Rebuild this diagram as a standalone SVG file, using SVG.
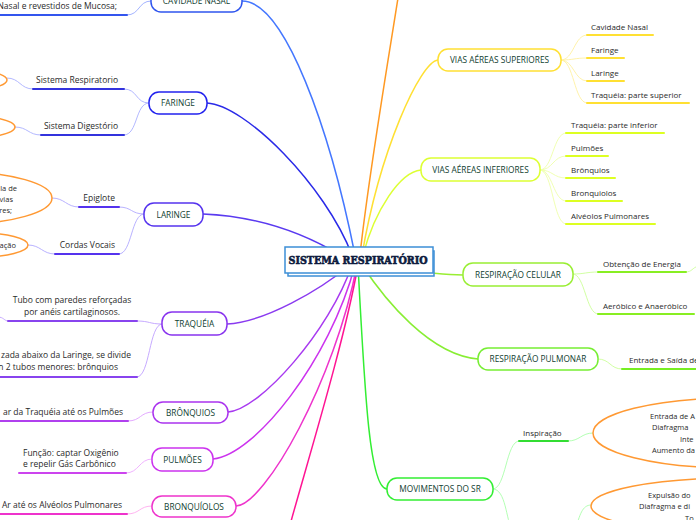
<svg xmlns="http://www.w3.org/2000/svg" width="696" height="520" viewBox="0 0 696 520">
<style>
.bg{fill:#ffffff}
.c{fill:none;stroke-linecap:round}
.m{stroke-width:1.5}
.s{stroke-width:0.9}
.u{stroke-width:2}
.nd{fill:#ffffff;stroke-width:1.5}
.nt{font-family:"Open Sans","Noto Sans",sans-serif;font-size:8.3px;fill:#0f4030;text-anchor:middle}
.lt{font-family:"Open Sans","Noto Sans",sans-serif;font-size:8.5px;fill:#2a2a2a}
.rt{font-family:"Open Sans","Noto Sans",sans-serif;font-size:8px;fill:#2a2a2a}
.et{font-family:"Open Sans","Noto Sans",sans-serif;font-size:7.5px;fill:#2a2a2a}
.el{fill:#ffffff;stroke:#ff9933;stroke-width:1.5}
.end{text-anchor:end}
.mid{text-anchor:middle}
.ct{font-family:"DejaVu Serif",serif;font-weight:bold;font-size:10.5px;fill:#0d1b3e;stroke:#0d1b3e;stroke-width:0.6;text-anchor:middle}
.cb{fill:#ffffff;stroke:#3d8fd6;stroke-width:1.5}
</style>
<rect class="bg" x="0" y="0" width="696" height="520"/>
<g id="connectors">
  <path class="c m" stroke="#4477ff" d="M242,1 C285,1 330,130 355,255"/>
  <path class="c m" stroke="#2a2ae8" d="M207,103 C245,105 325,185 352,255"/>
  <path class="c m" stroke="#5a3af0" d="M203,214 C250,216 300,230 345,258"/>
  <path class="c m" stroke="#8a3af0" d="M227,324 C265,322 320,290 350,265"/>
  <path class="c m" stroke="#a83af0" d="M228,412 C260,410 330,330 352,265"/>
  <path class="c m" stroke="#cc33ee" d="M213,459 C255,455 330,360 355,265"/>
  <path class="c m" stroke="#ee33cc" d="M236,506 C265,505 335,380 357,265"/>
  <path class="c m" stroke="#ff1493" d="M290,525 C305,470 345,340 358,265"/>
  <path class="c m" stroke="#ff9922" d="M398,-2 C385,80 368,180 360,255"/>
  <path class="c m" stroke="#ffe033" d="M438,60 C420,62 380,150 362,255"/>
  <path class="c m" stroke="#ddff33" d="M421,170 C400,172 375,210 363,255"/>
  <path class="c m" stroke="#99ee33" d="M420,272 C435,273 445,275 463,275"/>
  <path class="c m" stroke="#88ee33" d="M362,265 C385,300 430,355 478,359"/>
  <path class="c m" stroke="#33ee33" d="M358,265 C365,400 370,489 387,489"/>
  <path class="c s" stroke="#99aaff" d="M127,15 C140,15 138,1 151,1"/>
  <path class="c u" stroke="#3355ee" d="M0,15 L127,15"/>
  <path class="c s" stroke="#aab0ff" d="M124,89 C138,89 135,103 149,103"/>
  <path class="c s" stroke="#aab0ff" d="M124,135 C138,135 135,103 149,103"/>
  <path class="c s" stroke="#aab0ff" d="M7,78 C20,78 20,89 33,89"/>
  <path class="c s" stroke="#aab0ff" d="M15,127 C28,127 28,135 41,135"/>
  <path class="c u" stroke="#3333dd" d="M33,89 L124,89"/>
  <path class="c u" stroke="#3333dd" d="M41,135 L124,135"/>
  <path class="c s" stroke="#b0a8ff" d="M119,207 C132,207 131,214 144,214"/>
  <path class="c s" stroke="#b0a8ff" d="M119,254 C132,254 131,214 144,214"/>
  <path class="c s" stroke="#b0a8ff" d="M52,198 C65,198 66,207 79,207"/>
  <path class="c s" stroke="#b0a8ff" d="M28,245 C41,245 42,254 55,254"/>
  <path class="c u" stroke="#5533ee" d="M79,207 L119,207"/>
  <path class="c u" stroke="#5533ee" d="M55,254 L119,254"/>
  <path class="c s" stroke="#c0a0ff" d="M137,321 C150,321 149,324 162,324"/>
  <path class="c s" stroke="#c0a0ff" d="M137,377 C150,377 149,324 162,324"/>
  <path class="c s" stroke="#c0a0ff" d="M-2,317 C4,317 4,321 8,321"/>
  <path class="c u" stroke="#8844ee" d="M8,321 L137,321"/>
  <path class="c u" stroke="#8844ee" d="M0,377 L137,377"/>
  <path class="c s" stroke="#e0a0ff" d="M128,421 C141,421 140,412 153,412"/>
  <path class="c u" stroke="#b040ee" d="M0,421 L128,421"/>
  <path class="c s" stroke="#eeaaff" d="M126,473 C139,473 139,459 152,459"/>
  <path class="c u" stroke="#cc44ee" d="M19,473 L126,473"/>
  <path class="c s" stroke="#ffaaee" d="M127,514 C140,514 139,506 152,506"/>
  <path class="c u" stroke="#ee33cc" d="M0,514 L127,514"/>
  <path class="c s" stroke="#fff0a0" d="M561,60 C574,60 574,35 587,35"/>
  <path class="c s" stroke="#fff0a0" d="M561,60 C574,60 574,58 587,58"/>
  <path class="c s" stroke="#fff0a0" d="M561,60 C574,60 574,81 587,81"/>
  <path class="c s" stroke="#fff0a0" d="M561,60 C574,60 574,103 587,103"/>
  <path class="c u" stroke="#ffe033" d="M587,35 L653,35"/>
  <path class="c u" stroke="#ffe033" d="M587,58 L624,58"/>
  <path class="c u" stroke="#ffe033" d="M587,81 L624,81"/>
  <path class="c u" stroke="#ffe033" d="M587,103 L689,103"/>
  <path class="c s" stroke="#eeffaa" d="M540,170 C553,170 553,133 566,133"/>
  <path class="c s" stroke="#eeffaa" d="M540,170 C553,170 553,156 566,156"/>
  <path class="c s" stroke="#eeffaa" d="M540,170 C553,170 553,178 566,178"/>
  <path class="c s" stroke="#eeffaa" d="M540,170 C553,170 553,201 566,201"/>
  <path class="c s" stroke="#eeffaa" d="M540,170 C553,170 553,224 566,224"/>
  <path class="c u" stroke="#ddff22" d="M566,133 L664,133"/>
  <path class="c u" stroke="#ddff22" d="M566,156 L608,156"/>
  <path class="c u" stroke="#ddff22" d="M566,178 L615,178"/>
  <path class="c u" stroke="#ddff22" d="M566,201 L622,201"/>
  <path class="c u" stroke="#ddff22" d="M566,224 L655,224"/>
  <path class="c s" stroke="#ccff99" d="M573,274 C585,274 586,272 598,272"/>
  <path class="c s" stroke="#ccff99" d="M573,274 C585,274 586,314 598,314"/>
  <path class="c s" stroke="#ccff99" d="M686,272 C692,272 692,268 698,266"/>
  <path class="c u" stroke="#88ee22" d="M598,272 L686,272"/>
  <path class="c u" stroke="#88ee22" d="M598,314 L694,314"/>
  <path class="c s" stroke="#ccff99" d="M598,359 C610,359 610,369 622,369"/>
  <path class="c u" stroke="#77ee22" d="M622,369 L698,369"/>
  <path class="c s" stroke="#aaffaa" d="M493,489 C506,489 506,441 519,441"/>
  <path class="c s" stroke="#aaffaa" d="M493,489 C506,489 506,520 512,530"/>
  <path class="c s" stroke="#aaffaa" d="M568,441 C580,441 581,433 593,433"/>
  <path class="c s" stroke="#aaffaa" d="M575,530 C580,515 582,505 591,505"/>
  <path class="c u" stroke="#33dd33" d="M519,441 L568,441"/>
</g>
<g id="ellipses">
  <ellipse class="el" cx="-40" cy="80" rx="47" ry="11"/>
  <ellipse class="el" cx="-40" cy="127" rx="55" ry="12"/>
  <ellipse class="el" cx="-40" cy="198" rx="92" ry="26"/>
  <text class="et end" x="17" y="191">la de</text>
  <text class="et end" x="13" y="202">vias</text>
  <text class="et end" x="12" y="213">res;</text>
  <ellipse class="el" cx="-20" cy="245" rx="48" ry="12"/>
  <text class="et end" x="16" y="248">ação</text>
  <ellipse class="el" cx="733" cy="433" rx="140" ry="35"/>
  <text class="et" x="650" y="419">Entrada de A</text>
  <text class="et" x="652" y="430">Diafragma</text>
  <text class="et" x="680" y="442">Inte</text>
  <text class="et" x="652" y="453">Aumento da</text>
  <ellipse class="el" cx="733" cy="506" rx="142" ry="28"/>
  <text class="et" x="648" y="498">Expulsão do</text>
  <text class="et" x="639" y="509">Diafragma e di</text>
  <text class="et" x="685" y="521">To</text>
</g>
<g id="labels">
  <text class="lt end" x="117" y="9">Nasal e revestidos de Mucosa;</text>
  <text class="lt end" x="118" y="83">Sistema Respiratorio</text>
  <text class="lt end" x="118" y="129">Sistema Digestório</text>
  <text class="lt end" x="115" y="201">Epiglote</text>
  <text class="lt end" x="115" y="248">Cordas Vocais</text>
  <text class="lt mid" x="72" y="303">Tubo com paredes reforçadas</text>
  <text class="lt mid" x="72" y="315">por anéis cartilaginosos.</text>
  <text class="lt end" x="131" y="358">zada abaixo da Laringe, se divide</text>
  <text class="lt end" x="118" y="370">n 2 tubos menores: brônquios</text>
  <text class="lt end" x="123" y="415">ar da Traquéia até os Pulmões</text>
  <text class="lt" x="23" y="456">Função: captar Oxigênio</text>
  <text class="lt" x="23" y="467">e repelir Gás Carbônico</text>
  <text class="lt end" x="122" y="508">Ar até os Alvéolos Pulmonares</text>
  <text class="rt" x="591" y="30">Cavidade Nasal</text>
  <text class="rt" x="591" y="53">Faringe</text>
  <text class="rt" x="591" y="76">Laringe</text>
  <text class="rt" x="591" y="98">Traquéia: parte superior</text>
  <text class="rt" x="571" y="128">Traquéia: parte inferior</text>
  <text class="rt" x="571" y="151">Pulmões</text>
  <text class="rt" x="571" y="173">Brônquios</text>
  <text class="rt" x="571" y="196">Bronquiolos</text>
  <text class="rt" x="571" y="219">Alvéolos Pulmonares</text>
  <text class="rt" x="603" y="267">Obtenção de Energia</text>
  <text class="rt" x="603" y="309">Aeróbico e Anaeróbico</text>
  <text class="rt" x="629" y="363">Entrada e Saída de</text>
  <text class="rt" x="523" y="436">Inspiração</text>
</g>
<g id="node-cavidade-nasal"><rect class="nd" stroke="#2f55ee" x="151" y="-10" width="91" height="22" rx="10"/><text class="nt" x="196.5" y="4">CAVIDADE NASAL</text></g>
<g id="node-faringe"><rect class="nd" stroke="#2222ee" x="149" y="92" width="58" height="22" rx="10"/><text class="nt" x="178" y="106">FARINGE</text></g>
<g id="node-laringe"><rect class="nd" stroke="#5533ee" x="144" y="203" width="59" height="23" rx="10"/><text class="nt" x="173.5" y="217.5">LARINGE</text></g>
<g id="node-traqueia"><rect class="nd" stroke="#8833ee" x="162" y="312" width="65" height="23" rx="10"/><text class="nt" x="194.5" y="326.5">TRAQUÉIA</text></g>
<g id="node-bronquios"><rect class="nd" stroke="#aa33ee" x="153" y="402" width="75" height="21" rx="10"/><text class="nt" x="190.5" y="415.5">BRÔNQUIOS</text></g>
<g id="node-pulmoes"><rect class="nd" stroke="#cc33ee" x="152" y="448" width="61" height="23" rx="10"/><text class="nt" x="182.5" y="462.5">PULMÕES</text></g>
<g id="node-bronquiolos"><rect class="nd" stroke="#ee33cc" x="152" y="496" width="84" height="21" rx="10"/><text class="nt" x="194" y="509.5">BRONQUÍOLOS</text></g>
<g id="node-vias-superiores"><rect class="nd" stroke="#ffe033" x="438" y="49" width="123" height="22" rx="10"/><text class="nt" x="499.5" y="63">VIAS AÉREAS SUPERIORES</text></g>
<g id="node-vias-inferiores"><rect class="nd" stroke="#ddff33" x="421" y="158" width="119" height="23" rx="10"/><text class="nt" x="480.5" y="172.5">VIAS AÉREAS INFERIORES</text></g>
<g id="node-resp-celular"><rect class="nd" stroke="#99ee33" x="463" y="263" width="110" height="23" rx="10"/><text class="nt" x="518" y="277.5">RESPIRAÇÃO CELULAR</text></g>
<g id="node-resp-pulmonar"><rect class="nd" stroke="#77ee33" x="478" y="348" width="120" height="22" rx="10"/><text class="nt" x="538" y="362">RESPIRAÇÃO PULMONAR</text></g>
<g id="node-movimentos"><rect class="nd" stroke="#33ee33" x="387" y="478" width="106" height="22" rx="10"/><text class="nt" x="440" y="492">MOVIMENTOS DO SR</text></g>
<g id="node-central">
  <rect class="cb" x="288" y="251" width="146" height="25"/>
  <rect class="cb" x="285" y="247" width="148" height="26"/>
  <text class="ct" x="358" y="264" textLength="139" lengthAdjust="spacingAndGlyphs">SISTEMA RESPIRATÓRIO</text>
</g>
</svg>
